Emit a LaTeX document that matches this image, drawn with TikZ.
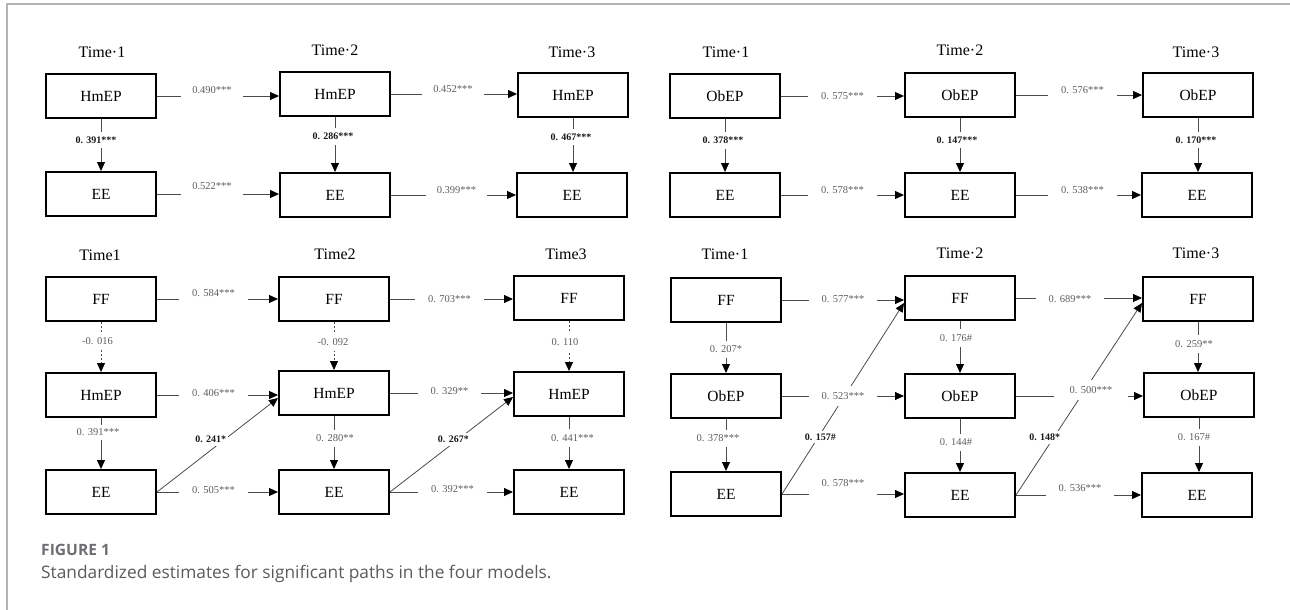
\documentclass[tikz,border=0pt]{standalone}
\usepackage{fontspec}
\setmainfont{Liberation Serif}
\newfontfamily\capfont{Open Sans}
\usetikzlibrary{arrows.meta,calc}

\definecolor{framegray}{HTML}{B4B4B4}
\definecolor{estgray}{HTML}{5E5E5E}
\definecolor{capgray}{HTML}{5A5B5D}
\definecolor{figgray}{HTML}{6D6E71}

\tikzset{
  box/.style={draw, line width=2pt, fill=white, minimum width=110pt, minimum height=44pt,
    inner sep=0pt, font=\fontsize{15.5}{18}\selectfont},
  timelbl/.style={inner sep=0pt, font=\fontsize{16}{19}\selectfont},
  conn/.style={draw=black!70, line width=0.8pt, -{Triangle[length=9pt,width=8pt,color=black]}},
  dconn/.style={conn, dash pattern=on 2pt off 2pt},
  est/.style={fill=white, text=estgray, inner xsep=13pt, inner ysep=6pt,
    font=\fontsize{10.5}{12}\selectfont},
  estb/.style={est, text=black!90, font=\bfseries\fontsize{10}{12}\selectfont},
  vest/.style={est, inner xsep=2pt, inner ysep=5pt},
  vestb/.style={estb, inner xsep=2pt, inner ysep=5pt},
  dest/.style={estb, inner xsep=2pt, inner ysep=3pt},
}

\begin{document}
\begin{tikzpicture}[x=1pt,y=-1pt]
\fill[white] (0,0) rectangle (1290,610);
\useasboundingbox (0,0) rectangle (1290,610);
\draw[framegray, line width=1.7pt] (6.8,610) -- (6.8,4.2) -- (1290,4.2);

% ---------- model 1: HmEP -> EE ----------
\node[timelbl] (A1t) at (102,52) {Time·1};
\node[timelbl] (A2t) at (335,50) {Time·2};
\node[timelbl] (A3t) at (572,52) {Time·3};
\node[box] (A1h) at (101,96) {HmEP};
\node[box] (A1e) at (101,194) {EE};
\node[box] (A2h) at (335,94) {HmEP};
\node[box] (A2e) at (335,195) {EE};
\node[box] (A3h) at (573,95) {HmEP};
\node[box] (A3e) at (572,195) {EE};

\draw[conn] (A1h.east) -- (A1h.east -| A2h.west) node[est, inner xsep=11pt, pos=0.5, xshift=-6pt, yshift=6pt] {0.490***};
\draw[conn] (A2h.east) -- (A2h.east -| A3h.west) node[est, inner xsep=11pt, pos=0.5, xshift=-1pt, yshift=5pt] {0.452***};
\draw[conn] (A1e.east) -- (A1e.east -| A2e.west) node[est, inner xsep=11pt, pos=0.5, xshift=-6pt, yshift=8pt] {0.522***};
\draw[conn] (A2e.east) -- (A2e.east -| A3e.west) node[est, inner xsep=11pt, pos=0.5, xshift=3pt, yshift=5pt] {0.399***};
\draw[conn] (A1h.south) -- (A1h.south |- A1e.north) node[vestb, midway, xshift=-5pt, yshift=5pt] {0. 391***};
\draw[conn] (A2h.south) -- (A2h.south |- A2e.north) node[vestb, midway, xshift=-2pt, yshift=8pt] {0. 286***};
\draw[conn] (A3h.south) -- (A3h.south |- A3e.north) node[vestb, midway, xshift=-2pt, yshift=8pt] {0. 467***};

% ---------- model 2: ObEP -> EE ----------
\node[timelbl] (B1t) at (726,52) {Time·1};
\node[timelbl] (B2t) at (960,50) {Time·2};
\node[timelbl] (B3t) at (1196,52) {Time·3};
\node[box] (B1o) at (725,96) {ObEP};
\node[box] (B1e) at (725,195) {EE};
\node[box] (B2o) at (960,95) {ObEP};
\node[box] (B2e) at (960,195) {EE};
\node[box] (B3o) at (1198,95) {ObEP};
\node[box] (B3e) at (1197,195) {EE};

\draw[conn] (B1o.east) -- (B1o.east -| B2o.west) node[est, pos=0.5, yshift=0pt] {0. 575***};
\draw[conn] (B2o.east) -- (B2o.east -| B3o.west) node[est, pos=0.5, xshift=3.5pt, yshift=5pt] {0. 576***};
\draw[conn] (B1e.east) -- (B1e.east -| B2e.west) node[est, pos=0.5, yshift=5pt] {0. 578***};
\draw[conn] (B2e.east) -- (B2e.east -| B3e.west) node[est, pos=0.5, xshift=4pt, yshift=5pt] {0. 538***};
\draw[conn] (B1o.south) -- (B1o.south |- B1e.north) node[vestb, midway, xshift=-2pt, yshift=5pt] {0. 378***};
\draw[conn] (B2o.south) -- (B2o.south |- B2e.north) node[vestb, midway, xshift=-3pt, yshift=5pt] {0. 147***};
\draw[conn] (B3o.south) -- (B3o.south |- B3e.north) node[vestb, midway, xshift=-2pt, yshift=5pt] {0. 170***};

% ---------- model 3: FF -> HmEP -> EE ----------
\node[timelbl] (C1t) at (100,255) {Time1};
\node[timelbl] (C2t) at (335,254) {Time2};
\node[timelbl] (C3t) at (566,254) {Time3};
\node[box] (C1f) at (101,299) {FF};
\node[box] (C1h) at (101,395) {HmEP};
\node[box] (C1e) at (101,492) {EE};
\node[box] (C2f) at (334,299) {FF};
\node[box] (C2h) at (334,393) {HmEP};
\node[box] (C2e) at (334,492) {EE};
\node[box] (C3f) at (569,298) {FF};
\node[box] (C3h) at (569,394) {HmEP};
\node[box] (C3e) at (569,492) {EE};

\draw[conn] (C1e.east) -- ($(C2h.west)+(0,5)$) node[dest, pos=0.56, xshift=-14pt] {0. 241*};
\draw[conn] (C2e.east) -- ($(C3h.west)+(0,3)$) node[dest, pos=0.556, xshift=-5pt] {0. 267*};
\draw[conn] (C1f.east) -- (C1f.east -| C2f.west) node[est, pos=0.5, xshift=-4pt, yshift=6pt] {0. 584***};
\draw[conn] (C2f.east) -- (C2f.east -| C3f.west) node[est, pos=0.5, xshift=-2pt] {0. 703***};
\draw[conn] (C1h.east) -- (C1h.east -| C2h.west) node[est, pos=0.5, xshift=-4pt, yshift=2pt] {0. 406***};
\draw[conn] (C2h.east) -- (C2h.east -| C3h.west) node[est, pos=0.5, xshift=-2pt, yshift=2pt] {0. 329**};
\draw[conn] (C1e.east) -- (C1e.east -| C2e.west) node[est, pos=0.5, xshift=-4pt, yshift=2pt] {0. 505***};
\draw[conn] (C2e.east) -- (C2e.east -| C3e.west) node[est, pos=0.5, xshift=1pt, yshift=3pt] {0. 392***};
\draw[dconn] (C1f.south) -- (C1f.south |- C1h.north) node[vest, midway, xshift=-3.5pt, yshift=6pt] {-0. 016};
\draw[dconn] (C2f.south) -- (C2f.south |- C2h.north) node[vest, midway, xshift=-1pt, yshift=4pt] {-0. 092};
\draw[dconn] (C3f.south) -- (C3f.south |- C3h.north) node[vest, midway, xshift=-4pt, yshift=4pt] {0. 110};
\draw[conn] (C1h.south) -- (C1h.south |- C1e.north) node[vest, inner ysep=4pt, midway, xshift=-3pt, yshift=11pt] {0. 391***};
\draw[conn] (C2h.south) -- (C2h.south |- C2e.north) node[vest, midway, xshift=1pt, yshift=4pt] {0. 280**};
\draw[conn] (C3h.south) -- (C3h.south |- C3e.north) node[vest, midway, xshift=3.5pt, yshift=5pt] {0. 441***};

% ---------- model 4: FF -> ObEP -> EE ----------
\node[timelbl] (D1t) at (725,254) {Time·1};
\node[timelbl] (D2t) at (960,253) {Time·2};
\node[timelbl] (D3t) at (1196,253) {Time·3};
\node[box] (D1f) at (726,300) {FF};
\node[box] (D1o) at (726,396) {ObEP};
\node[box] (D1e) at (726,494) {EE};
\node[box] (D2f) at (960,298) {FF};
\node[box] (D2o) at (960,396) {ObEP};
\node[box] (D2e) at (960,495) {EE};
\node[box] (D3f) at (1198,299) {FF};
\node[box] (D3o) at (1199,395) {ObEP};
\node[box] (D3e) at (1197,495) {EE};

\draw[conn] (D1e.east) -- ($(D2f.west)+(0,5)$) node[dest, pos=0.298, xshift=2pt] {0. 157\#};
\draw[conn] (D2e.east) -- ($(D3f.west)+(0,4)$) node[dest, pos=0.30, xshift=-9pt] {0. 148*};
\draw[conn] (D1f.east) -- (D1f.east -| D2f.west) node[est, pos=0.5, yshift=1pt] {0. 577***};
\draw[conn] (D2f.east) -- (D2f.east -| D3f.west) node[est, pos=0.5, xshift=-9pt, yshift=-1pt] {0. 689***};
\draw[conn] (D1o.east) -- (D1o.east -| D2o.west) node[est, pos=0.5] {0. 523***};
\draw[conn] (D2o.east) -- (D2o.east -| D3o.west) node[est, inner xsep=16pt, pos=0.5, xshift=11.5pt, yshift=6pt] {0. 500***};
\draw[conn] (D1e.east) -- (D1e.east -| D2e.west) node[est, inner ysep=11pt, pos=0.5, yshift=11pt] {0. 578***};
\draw[conn] (D2e.east) -- (D2e.east -| D3e.west) node[est, inner ysep=8pt, pos=0.5, xshift=1.5pt, yshift=7pt] {0. 536***};
\draw[conn] (D1f.south) -- (D1f.south |- D1o.north) node[vest, midway, yshift=-1.5pt] {0. 207*};
\draw[conn] (D1o.south) -- (D1o.south |- D1e.north) node[vest, midway, xshift=-8pt, yshift=6.5pt] {0. 378***};
\draw[conn] (D2f.south) -- (D2f.south |- D2o.north) node[vest, midway, xshift=-4pt, yshift=9pt] {0. 176\#};
\draw[conn] (D2o.south) -- (D2o.south |- D2e.north) node[vest, midway, xshift=-4pt, yshift=3pt] {0. 144\#};
\draw[conn] (D3f.south) -- (D3f.south |- D3o.north) node[vest, midway, xshift=-4pt, yshift=3pt] {0. 259**};
\draw[conn] (D3o.south) -- (D3o.south |- D3e.north) node[vest, midway, xshift=-5pt, yshift=7.5pt] {0. 167\#};

% ---------- caption ----------
\node[anchor=base west, inner sep=0pt, text=figgray, font=\capfont\bfseries\fontsize{15.6}{18}\selectfont] (figlbl) at (41,555.5) {FIGURE 1};
\node[anchor=base west, inner sep=0pt, text=capgray, font=\capfont\fontsize{17.3}{20}\selectfont] (figcap) at (41,578) {Standardized estimates for significant paths in the four models.};
\end{tikzpicture}
\end{document}
